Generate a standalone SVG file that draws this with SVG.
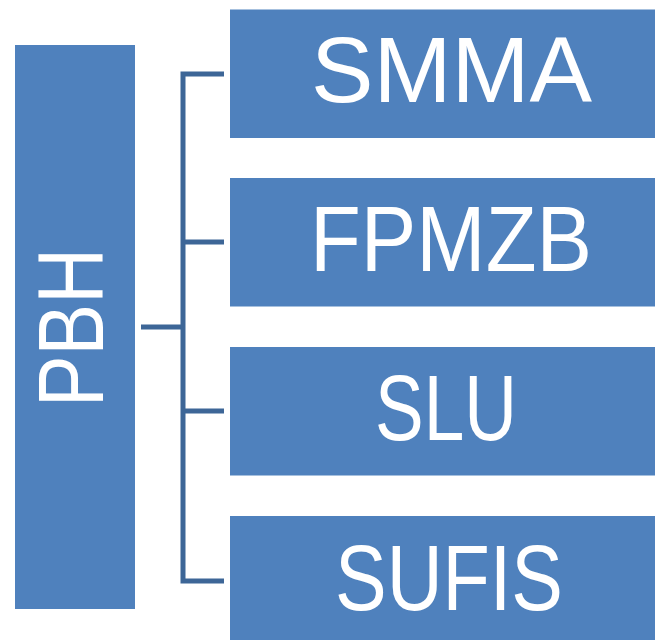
<svg xmlns="http://www.w3.org/2000/svg" width="655" height="640" viewBox="0 0 655 640">
<style>
.box{fill:#4F81BD}
.lbl{fill:#FFFFFF;font-family:"Liberation Sans","Open Sans",Arial,sans-serif;font-size:92px;text-anchor:middle}
.conn{fill:none;stroke:#3D6697;stroke-width:5;stroke-linejoin:miter}
</style>
<rect width="655" height="640" fill="#FFFFFF"/>
<g id="connectors">
<path class="conn" d="M141,327 H183"/>
<path class="conn" d="M224,74 H183 V581 H224"/>
<path class="conn" d="M183,242 H224"/>
<path class="conn" d="M183,411 H224"/>
</g>
<g id="node-pbh">
<rect class="box" x="15" y="45" width="120" height="564"/>
<text class="lbl" transform="translate(103,327.5) rotate(-90)" x="0" y="0" textLength="159" lengthAdjust="spacingAndGlyphs">PBH</text>
</g>
<g id="node-smma">
<rect class="box" x="230" y="9.5" width="425" height="128.5"/>
<text class="lbl" x="451.5" y="101.5" textLength="281" lengthAdjust="spacingAndGlyphs">SMMA</text>
</g>
<g id="node-fpmzb">
<rect class="box" x="230" y="178" width="425" height="128.5"/>
<text class="lbl" x="451" y="270.5" textLength="282" lengthAdjust="spacingAndGlyphs">FPMZB</text>
</g>
<g id="node-slu">
<rect class="box" x="230" y="347" width="425" height="128.5"/>
<text class="lbl" x="446" y="440" textLength="142" lengthAdjust="spacingAndGlyphs">SLU</text>
</g>
<g id="node-sufis">
<rect class="box" x="230" y="516" width="425" height="128.5"/>
<text class="lbl" x="449" y="610" textLength="228" lengthAdjust="spacingAndGlyphs">SUFIS</text>
</g>
</svg>
